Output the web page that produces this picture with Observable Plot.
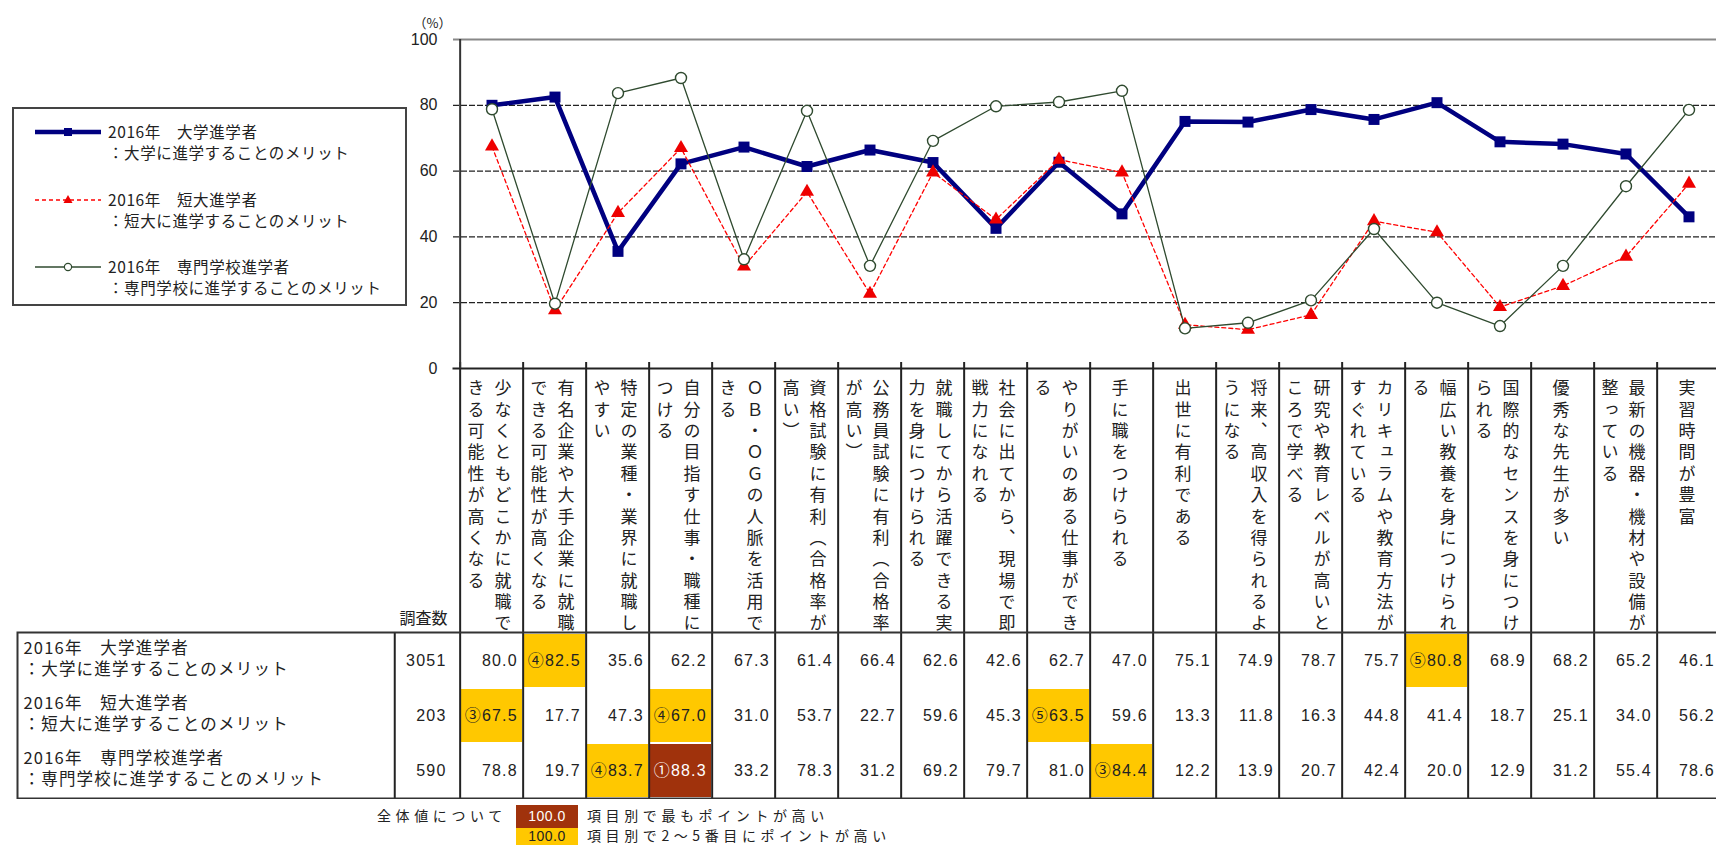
<!DOCTYPE html>
<html>
<head>
<meta charset="utf-8">
<script src="https://cdn.jsdelivr.net/npm/d3@7"></script>
<script src="https://cdn.jsdelivr.net/npm/@observablehq/plot@0.6"></script>
<style>
  body { margin:0; background:#fff; overflow:hidden; font-family:"Noto Sans CJK JP", sans-serif; color:#222; }
  #wrap { position:relative; width:1716px; height:845px; overflow:hidden; background:#fff; }
  .abs { position:absolute; }
  #legend { left:12px; top:107px; width:391px; height:195px; border:2px solid #444; background:#fff; }
  .lg-line { position:absolute; left:94px; font-size:15.5px; line-height:21px; letter-spacing:0.6px; white-space:nowrap; color:#222; }
  .lg-sw { position:absolute; left:21px; }
  .note { font-size:14px; line-height:20px; letter-spacing:4.6px; white-space:nowrap; color:#222; }
  .box { width:62px; font-size:14px; text-align:center; font-family:"Liberation Sans", sans-serif; letter-spacing:0.5px; }
  .tbl g[aria-label="text"] text { letter-spacing:1.2px; }
</style>
</head>
<body>
<div id="wrap"></div>
<script>
// ---------------- data ----------------
const categories = [
  "少なくともどこかに就職できる可能性が高くなる",
  "有名企業や大手企業に就職できる可能性が高くなる",
  "特定の業種・業界に就職しやすい",
  "自分の目指す仕事・職種につける",
  "ＯＢ・ＯＧの人脈を活用できる",
  "資格試験に有利（合格率が高い）",
  "公務員試験に有利（合格率が高い）",
  "就職してから活躍できる実力を身につけられる",
  "社会に出てから、現場で即戦力になれる",
  "やりがいのある仕事ができる",
  "手に職をつけられる",
  "出世に有利である",
  "将来、高収入を得られるようになる",
  "研究や教育レベルが高いところで学べる",
  "カリキュラムや教育方法がすぐれている",
  "幅広い教養を身につけられる",
  "国際的なセンスを身につけられる",
  "優秀な先生が多い",
  "最新の機器・機材や設備が整っている",
  "実習時間が豊富"
];
// how each category label wraps in the vertical header (right column first)
const labelLines = [
  ["少なくともどこかに就職で","きる可能性が高くなる"],
  ["有名企業や大手企業に就職","できる可能性が高くなる"],
  ["特定の業種・業界に就職し","やすい"],
  ["自分の目指す仕事・職種に","つける"],
  ["ＯＢ・ＯＧの人脈を活用で","きる"],
  ["資格試験に有利（合格率が","高い）"],
  ["公務員試験に有利（合格率","が高い）"],
  ["就職してから活躍できる実","力を身につけられる"],
  ["社会に出てから、現場で即","戦力になれる"],
  ["やりがいのある仕事ができ","る"],
  ["手に職をつけられる"],
  ["出世に有利である"],
  ["将来、高収入を得られるよ","うになる"],
  ["研究や教育レベルが高いと","ころで学べる"],
  ["カリキュラムや教育方法が","すぐれている"],
  ["幅広い教養を身につけられ","る"],
  ["国際的なセンスを身につけ","られる"],
  ["優秀な先生が多い"],
  ["最新の機器・機材や設備が","整っている"],
  ["実習時間が豊富"]
];
const seriesNames = ["2016年　大学進学者", "2016年　短大進学者", "2016年　専門学校進学者"];
const seriesSubs  = ["：大学に進学することのメリット", "：短大に進学することのメリット", "：専門学校に進学することのメリット"];
const counts = [3051, 203, 590];
const univ   = [80.0, 82.5, 35.6, 62.2, 67.3, 61.4, 66.4, 62.6, 42.6, 62.7, 47.0, 75.1, 74.9, 78.7, 75.7, 80.8, 68.9, 68.2, 65.2, 46.1];
const junior = [67.5, 17.7, 47.3, 67.0, 31.0, 53.7, 22.7, 59.6, 45.3, 63.5, 59.6, 13.3, 11.8, 16.3, 44.8, 41.4, 18.7, 25.1, 34.0, 56.2];
const voc    = [78.8, 19.7, 83.7, 88.3, 33.2, 78.3, 31.2, 69.2, 79.7, 81.0, 84.4, 12.2, 13.9, 20.7, 42.4, 20.0, 12.9, 31.2, 55.4, 78.6];
const yTicks = [0, 20, 40, 60, 80, 100];
// highlighted table cells: series index, category index, rank mark
const ranks = [
  {series:0, cat:1,  mark:"④"}, {series:0, cat:15, mark:"⑤"},
  {series:1, cat:0,  mark:"③"}, {series:1, cat:3,  mark:"④"}, {series:1, cat:9, mark:"⑤"},
  {series:2, cat:2,  mark:"④"}, {series:2, cat:3,  mark:"①"}, {series:2, cat:10, mark:"③"}
];

// ---------------- styles ----------------
const NAVY = "#000080", RED = "#ff0000", GREEN = "#2f4a2f";
const YELLOW = "#ffc800", BROWN = "#a0320c", INK = "#222";
const FONT = "'Noto Sans CJK JP', sans-serif";
const X0 = 453, X1 = 1727;
const bw = (X1 - X0) / categories.length;
const xScale = {type:"band", domain:categories, range:[X0, X1], padding:0, axis:null};

const wrap = document.getElementById("wrap");
function place(node, top) {
  node.style.position = "absolute"; node.style.left = "0px"; node.style.top = top + "px";
  wrap.appendChild(node);
}

// ---------------- header (vertical category labels) ----------------
const headerRows = categories.map((c, i) => ({cat:c, lines:labelLines[i]}));
const toChars = (rows, k) => rows.flatMap(d => Array.from(d.lines[k]).map((ch, i) => ({cat:d.cat, ch, i})));
const pairs = headerRows.filter(d => d.lines.length === 2);
const singles = headerRows.filter(d => d.lines.length === 1);
const rightChars = toChars(pairs, 0), leftChars = toChars(pairs, 1), singleChars = toChars(singles, 0);
const ctext = {x:"cat", y:"i", text:"ch", fontSize:17, fill:INK};

const header = Plot.plot({
  width:1716, height:270, marginTop:0, marginBottom:0, marginLeft:X0, marginRight:0,
  x: xScale,
  y: {domain:[0, 11], range:[20, 20 + 11 * 21.36], axis:null},
  style:{fontFamily:FONT, background:"transparent", color:INK},
  marks:[
    Plot.frame({anchor:"top", dy:6, stroke:INK, strokeWidth:2}),
    Plot.ruleX(categories, {x:d => d, dx:-bw/2, stroke:INK, strokeWidth:2}),
    Plot.text(rightChars,  {...ctext, dx:11}),
    Plot.text(leftChars,   {...ctext, dx:-16}),
    Plot.text(singleChars, {...ctext, dx:-2}),
    Plot.text(["調査数"], {frameAnchor:"bottom-left", dx:-6, dy:-9, textAnchor:"end", fontSize:16, fill:INK})
  ]
});
// set the category label characters in vertical Japanese writing
d3.select(header).selectAll("text")
  .filter(function() { return this.textContent !== "調査数"; })
  .attr("dy", null)
  .style("writing-mode", "vertical-rl")
  .style("text-orientation", "upright");
place(header, 362);

// ---------------- line chart ----------------
const pts = categories.map((c, i) => ({cat:c, u:univ[i], j:junior[i], v:voc[i]}));
const chart = Plot.plot({
  width:1716, height:382, marginTop:39, marginBottom:14, marginLeft:X0, marginRight:0,
  x: xScale,
  y: {domain:[0, 100], range:[368, 39]},
  style:{fontFamily:FONT, background:"transparent", color:INK},
  marks:[
    Plot.ruleY([20, 40, 60, 80], {stroke:"#222", strokeWidth:1.3, strokeDasharray:"6,2"}),
    Plot.ruleY([100], {stroke:"#888", strokeWidth:2}),
    Plot.ruleX([categories[0]], {x:d => d, dx:-bw/2, y1:0, y2:100, stroke:"#333", strokeWidth:2}),
    Plot.axisY({ticks:yTicks, tickSize:0, tickPadding:16, label:null, fontSize:16, fontFamily:"'Liberation Sans', sans-serif"}),
    Plot.text(["（%）"], {frameAnchor:"top-left", dx:-40, dy:-21, fontSize:13, fill:INK}),
    Plot.line(pts, {x:"cat", y:"u", stroke:NAVY, strokeWidth:4.5}),
    Plot.dot(pts,  {x:"cat", y:"u", symbol:"square", r:6.2, fill:NAVY}),
    Plot.line(pts, {x:"cat", y:"j", stroke:RED, strokeWidth:1.3, strokeDasharray:"4,3"}),
    Plot.dot(pts,  {x:"cat", y:"j", symbol:"triangle", r:5.2, fill:"#ee0000"}),
    Plot.line(pts, {x:"cat", y:"v", stroke:GREEN, strokeWidth:1.3}),
    Plot.dot(pts,  {x:"cat", y:"v", r:5.5, fill:"white", stroke:GREEN, strokeWidth:1.4})
  ]
});
place(chart, 0);

// ---------------- table ----------------
const seriesVals = [univ, junior, voc];
const rankKey = new Map(ranks.map(r => [r.series + "-" + r.cat, r]));
const tableCells = seriesNames.flatMap((s, si) => categories.map((c, ci) => {
  const r = rankKey.get(si + "-" + ci);
  return {series:s, cat:c, text:(r ? r.mark : "") + seriesVals[si][ci].toFixed(1), top: r && r.mark === "①"};
}));
const seriesRows = seriesNames.map((s, i) => ({series:s, sub:seriesSubs[i], n:counts[i]}));

const table = Plot.plot({
  className:"tbl",
  width:1716, height:168, marginTop:1, marginBottom:1, marginLeft:17, marginRight:-6,
  x: xScale,
  y: {type:"band", domain:seriesNames, padding:0, axis:null},
  color: {type:"identity"},
  style:{fontFamily:FONT, background:"transparent", color:INK},
  marks:[
    Plot.cell(ranks, {x:d => categories[d.cat], y:d => seriesNames[d.series], fill:d => d.mark === "①" ? BROWN : YELLOW, inset:1}),
    Plot.ruleX(categories, {x:d => d, dx:-bw/2, stroke:INK, strokeWidth:2}),
    Plot.ruleX([categories[0]], {x:d => d, dx:-bw/2 - 65.4, stroke:INK, strokeWidth:2}),
    Plot.frame({stroke:"#333", strokeWidth:2}),
    Plot.text(tableCells, {x:"cat", y:"series", text:"text", textAnchor:"end", dx:bw/2 - 6, fontSize:16,
      fontFamily:"'Liberation Sans', 'Noto Sans CJK JP', sans-serif", fill:d => d.top ? "#ffffff" : INK}),
    Plot.text(seriesRows, {y:"series", frameAnchor:"left", dx:6, dy:-12.5, textAnchor:"start", fontSize:16.5,
      text:"series", fill:INK}),
    Plot.text(seriesRows, {y:"series", frameAnchor:"left", dx:6, dy:8.5, textAnchor:"start", fontSize:16.5,
      text:"sub", fill:INK}),
    Plot.text(seriesRows, {y:"series", frameAnchor:"left", dx:429, textAnchor:"end", fontSize:16,
      fontFamily:"'Liberation Sans', sans-serif", text:d => String(d.n), fill:INK})
  ]
});
place(table, 631);

// ---------------- legend (HTML) ----------------
const legend = document.createElement("div");
legend.id = "legend"; legend.className = "abs";
const swatches = [
  `<svg width="66" height="20"><line x1="0" y1="10" x2="66" y2="10" stroke="${NAVY}" stroke-width="4.5"/><rect x="29" y="6" width="8" height="8" fill="${NAVY}"/></svg>`,
  `<svg width="66" height="20"><line x1="0" y1="10" x2="66" y2="10" stroke="${RED}" stroke-width="1.3" stroke-dasharray="4,3"/><path d="M33,5 L37.5,13 L28.5,13 Z" fill="#ee0000"/></svg>`,
  `<svg width="66" height="20"><line x1="0" y1="10" x2="66" y2="10" stroke="${GREEN}" stroke-width="1.3"/><circle cx="33" cy="10" r="3.6" fill="white" stroke="${GREEN}" stroke-width="1.2"/></svg>`
];
const tops = [12, 80, 147];
seriesNames.forEach((s, i) => {
  legend.insertAdjacentHTML("beforeend",
    `<div class="lg-sw" style="top:${tops[i] + 0.5}px">${swatches[i]}</div>` +
    `<div class="lg-line" style="top:${tops[i]}px">${s}</div>` +
    `<div class="lg-line" style="top:${tops[i] + 21}px">${seriesSubs[i]}</div>`);
});
wrap.appendChild(legend);

// ---------------- bottom note ----------------
wrap.insertAdjacentHTML("beforeend",
  `<div class="abs note" style="left:377px;top:805px">全体値について</div>` +
  `<div class="abs box" style="left:516px;top:805px;height:23px;line-height:23px;background:${BROWN};color:#fff">100.0</div>` +
  `<div class="abs note" style="left:587px;top:805px">項目別で最もポイントが高い</div>` +
  `<div class="abs box" style="left:516px;top:828px;height:17px;line-height:17px;background:${YELLOW};color:#222">100.0</div>` +
  `<div class="abs note" style="left:587px;top:825px">項目別で2～5番目にポイントが高い</div>`);
</script>
</body>
</html>
